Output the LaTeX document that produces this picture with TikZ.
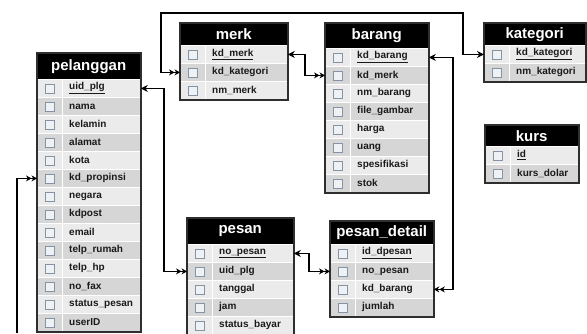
\documentclass[tikz,border=0pt]{standalone}
\usepackage{fontspec}
\setmainfont{Liberation Sans}
\usetikzlibrary{arrows.meta}
\definecolor{rowA}{HTML}{EBEBEB}
\definecolor{rowB}{HTML}{D6D6D6}
\definecolor{boxedge}{HTML}{2E2E2E}
\definecolor{cbedge}{HTML}{8494A4}
\definecolor{cbfill}{HTML}{EEF2F5}
\definecolor{txt}{HTML}{1A1A1A}
\tikzset{
  hdrbox/.style={fill=black, text=white, font=\bfseries\fontsize{15}{15}\selectfont,
    inner sep=0pt, anchor=north west},
  rowbox/.style={draw=white, line width=0.8pt, inner sep=0pt, minimum height=18pt},
  cbox/.style={draw=cbedge, fill=cbfill, line width=0.7pt, inner sep=0pt, minimum size=9pt},
  rowtext/.style={text=txt, font=\bfseries\fontsize{10}{11}\selectfont, inner sep=0pt, anchor=west},
  tableedge/.style={draw=boxedge, line width=1.5pt},
  rel/.style={draw=black, line width=1.4pt,
    arrows={Stealth[length=7pt,width=7pt]-Stealth[length=5.5pt,width=6pt]Stealth[length=5.5pt,width=6pt]}},
  relmany/.style={draw=black, line width=1.4pt,
    arrows={-Stealth[length=5.5pt,width=6pt]Stealth[length=5.5pt,width=6pt]}}
}
% #1 name, #2 left, #3 top, #4 width, #5 header height, #6 title, #7 rows
\newcommand\ertable[7]{%
  \node[hdrbox, minimum width=#4pt, minimum height=#5pt] (#1) at (#2,#3) {#6};
  \foreach \rw [count=\i] in {#7}{%
    \ifodd\i\relax\def\rc{rowA}\else\def\rc{rowB}\fi
    \node[rowbox, fill=\rc, minimum width=#4pt, anchor=north west] (#1-\i) at (#2,{#3+#5+(\i-1)*18}) {};
    \draw[white, line width=0.8pt] ([xshift=25pt]#1-\i.north west) -- ([xshift=25pt]#1-\i.south west);
    \node[cbox] at ([xshift=12.5pt]#1-\i.west) {};
    \node[rowtext] at ([xshift=32pt]#1-\i.west) {\rw};
    \xdef\lastrow{\i}
  }
  \draw[tableedge] (#1.north west) rectangle (#1-\lastrow.south east);
}
\begin{document}
\begin{tikzpicture}[x=1pt, y=-1pt]
\useasboundingbox (0,0) rectangle (587,333);
\fill[white] (0,0) rectangle (587,333);

\ertable{pelanggan}{37}{53}{103}{26}{pelanggan}{\underline{uid\_plg}, nama, kelamin, alamat, kota, kd\_propinsi, negara, kdpost, email, telp\_rumah, telp\_hp, no\_fax, status\_pesan, userID}
\ertable{merk}{180}{23}{107}{22}{merk}{\underline{kd\_merk}, kd\_kategori, nm\_merk}
\ertable{barang}{325}{23}{103}{25}{barang}{\underline{kd\_barang}, kd\_merk, nm\_barang, file\_gambar, harga, uang, spesifikasi, stok}
\ertable{kategori}{484}{23}{101}{22}{kategori}{\underline{kd\_kategori}, nm\_kategori}
\ertable{kurs}{485}{125}{93}{21}{kurs}{\underline{id}, kurs\_dolar}
\ertable{pesan}{187}{218}{106}{26}{pesan}{\underline{no\_pesan}, uid\_plg, tanggal, jam, status\_bayar}
\ertable{pdetail}{330}{221}{103}{23}{pesan\_detail}{\underline{id\_dpesan}, no\_pesan, kd\_barang, jumlah}

% connectors
\coordinate (k1) at (463,13);
\coordinate (k2) at (161,13);
\coordinate (prop) at (17,333);
\draw[rel] (kategori-1.west) -| (k1) -- (k2) |- (merk-2.west);
\draw[rel] (merk-1.east) -- ++(17,0) |- (barang-2.west);
\draw[rel] (barang-1.east) -- ++(24,0) |- (pdetail-3.east);
\draw[rel] (pelanggan-1.east) -- ++(23,0) |- (pesan-2.west);
\draw[rel] (pesan-1.east) -- ++(15,0) |- (pdetail-2.west);
\draw[relmany] (prop) |- (pelanggan-6.west);
\end{tikzpicture}
\end{document}
